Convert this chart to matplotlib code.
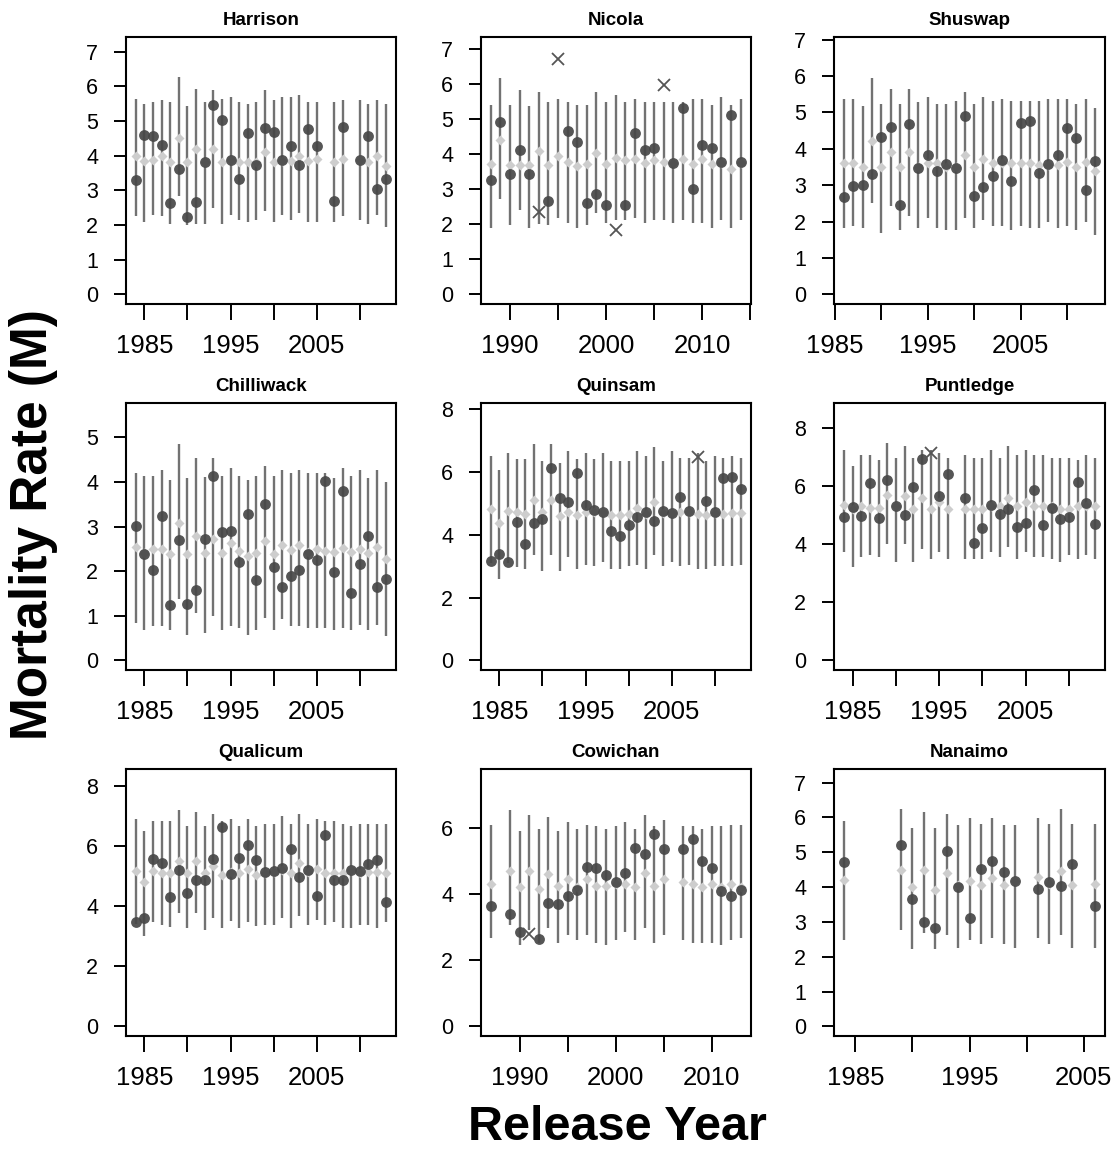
import matplotlib
matplotlib.use("Agg")
import matplotlib.pyplot as plt

plt.rcParams['font.family'] = ['Liberation Sans', 'DejaVu Sans']

# ---------------- data ----------------
panel_names = ["Harrison", "Nicola", "Shuswap", "Chilliwack", "Quinsam",
               "Puntledge", "Qualicum", "Cowichan", "Nanaimo"]

harrison_years = list(range(1984, 2006)) + [2007, 2008, 2010, 2011, 2012, 2013]
harrison_obs = [3.31, 4.61, 4.58, 4.30, 2.64, 3.62, 2.22, 2.67, 3.81, 5.45, 5.04, 3.89, 3.33, 4.66,
                3.74, 4.81, 4.69, 3.89, 4.27, 3.72, 4.77, 4.29, 2.69, 4.83, 3.89, 4.56, 3.04, 3.34]
harrison_pred = [3.98, 3.85, 3.88, 3.98, 3.82, 4.50, 3.82, 4.18, 3.82, 4.20, 3.82, 3.88, 3.82, 3.82,
                 3.82, 4.12, 3.82, 3.85, 3.85, 3.98, 3.85, 3.90, 3.82, 3.90, 3.88, 3.82, 3.98, 3.70]
harrison_lo = [2.27, 2.08, 2.30, 2.25, 2.03, 2.83, 2.00, 2.03, 2.03, 2.50, 2.03, 2.30, 2.15, 2.10,
               2.15, 2.42, 2.10, 2.30, 2.15, 2.35, 2.10, 2.10, 2.10, 2.25, 2.15, 2.03, 2.30, 1.95]
harrison_hi = [5.64, 5.48, 5.55, 5.62, 5.56, 6.26, 5.42, 5.91, 5.55, 5.90, 5.63, 5.70, 5.56, 5.50,
               5.56, 5.90, 5.62, 5.70, 5.70, 5.75, 5.56, 5.56, 5.56, 5.62, 5.62, 5.50, 5.62, 5.50]
harrison_cross = []

nicola_years = list(range(1988, 2015))
nicola_obs = [3.27, 4.91, 3.44, 4.13, 3.42, 2.36, 2.67, 6.72, 4.65, 4.34, 2.61, 2.86, 2.54, 1.85,
              2.54, 4.59, 4.11, 4.18, 5.98, 3.75, 5.32, 3.02, 4.25, 4.18, 3.78, 5.13, 3.77]
nicola_pred = [3.72, 4.40, 3.70, 3.70, 3.70, 4.10, 3.70, 3.95, 3.78, 3.65, 3.72, 4.02, 3.72, 3.90,
               3.82, 3.85, 3.75, 3.82, 3.78, 3.75, 3.85, 3.72, 3.85, 3.72, 3.75, 3.58, 3.75]
nicola_lo = [1.89, 2.72, 1.98, 2.40, 1.90, 2.00, 1.98, 2.18, 2.05, 1.90, 1.98, 2.32, 2.05, 2.11,
             2.11, 2.18, 2.05, 2.11, 2.11, 2.05, 2.11, 2.05, 2.05, 1.90, 2.11, 1.90, 2.11]
nicola_hi = [5.41, 6.17, 5.41, 5.84, 5.36, 5.77, 5.50, 5.58, 5.50, 5.40, 5.41, 5.77, 5.50, 5.70,
             5.50, 5.58, 5.50, 5.50, 5.50, 5.50, 5.50, 5.58, 5.58, 5.41, 5.63, 5.41, 5.58]
nicola_cross = [1993, 1995, 2001, 2006]

shuswap_years = list(range(1986, 2014))
shuswap_obs = [2.67, 2.97, 3.00, 3.32, 4.33, 4.59, 2.45, 4.69, 3.47, 3.84, 3.40, 3.57, 3.47, 4.91,
               2.69, 2.94, 3.26, 3.70, 3.11, 4.71, 4.76, 3.34, 3.58, 3.82, 4.56, 4.30, 2.86, 3.66]
shuswap_pred = [3.62, 3.62, 3.50, 4.20, 3.50, 3.90, 3.50, 3.90, 3.50, 3.60, 3.60, 3.50, 3.50, 3.82,
                3.50, 3.72, 3.60, 3.60, 3.60, 3.62, 3.60, 3.55, 3.55, 3.55, 3.65, 3.50, 3.65, 3.40]
shuswap_lo = [1.82, 1.89, 1.82, 2.51, 1.70, 2.42, 1.78, 2.16, 1.82, 2.10, 1.82, 1.78, 1.78, 2.10,
              1.82, 2.05, 1.89, 1.89, 1.78, 1.89, 1.82, 1.82, 1.98, 1.82, 1.89, 1.78, 1.98, 1.64]
shuswap_hi = [5.37, 5.37, 5.17, 5.95, 5.22, 5.63, 5.22, 5.63, 5.28, 5.43, 5.22, 5.22, 5.30, 5.55,
              5.22, 5.43, 5.30, 5.37, 5.30, 5.30, 5.30, 5.30, 5.37, 5.37, 5.37, 5.22, 5.37, 5.12]
shuswap_cross = []

chilliwack_years = list(range(1984, 2014))
chilliwack_obs = [3.02, 2.38, 2.03, 3.24, 1.25, 2.70, 1.27, 1.57, 2.73, 4.14, 2.88, 2.91, 2.20, 3.29,
                  1.80, 3.51, 2.09, 1.64, 1.89, 2.03, 2.39, 2.24, 4.01, 1.98, 3.79, 1.50, 2.15, 2.78,
                  1.65, 1.83]
chilliwack_pred = [2.55, 2.40, 2.50, 2.50, 2.38, 3.07, 2.38, 2.78, 2.40, 2.72, 2.40, 2.62, 2.45, 2.35,
                   2.40, 2.68, 2.38, 2.58, 2.48, 2.58, 2.42, 2.50, 2.45, 2.42, 2.52, 2.42, 2.50, 2.40,
                   2.55, 2.28]
chilliwack_lo = [0.84, 0.69, 0.77, 0.77, 0.69, 1.38, 0.58, 1.07, 0.62, 0.99, 0.69, 0.77, 0.73, 0.58,
                 0.69, 0.95, 0.69, 0.92, 0.77, 0.77, 0.73, 0.73, 0.73, 0.69, 0.73, 0.69, 0.80, 0.69,
                 0.80, 0.54]
chilliwack_hi = [4.20, 4.14, 4.14, 4.27, 4.05, 4.85, 4.08, 4.53, 4.12, 4.53, 4.14, 4.31, 4.14, 4.05,
                 4.14, 4.36, 4.14, 4.27, 4.20, 4.27, 4.20, 4.20, 4.20, 4.08, 4.31, 4.14, 4.27, 4.08,
                 4.27, 3.99]
chilliwack_cross = []

quinsam_years = list(range(1984, 2014))
quinsam_obs = [3.17, 3.39, 3.12, 4.42, 3.71, 4.39, 4.50, 6.12, 5.16, 5.03, 5.96, 4.95, 4.79, 4.74,
               4.11, 3.97, 4.32, 4.58, 4.72, 4.44, 4.77, 4.69, 5.20, 4.77, 6.47, 5.06, 4.71, 5.80,
               5.85, 5.45]
quinsam_pred = [4.82, 4.38, 4.75, 4.72, 4.65, 5.12, 4.72, 5.10, 4.60, 4.72, 4.62, 4.72, 4.72, 4.72,
                4.62, 4.62, 4.65, 4.85, 4.65, 5.05, 4.68, 4.68, 4.72, 4.72, 4.65, 4.62, 4.70, 4.65,
                4.70, 4.70]
quinsam_lo = [3.10, 2.59, 3.10, 2.97, 2.91, 3.36, 2.84, 3.36, 2.84, 3.29, 2.91, 3.05, 2.99, 3.12,
              2.91, 2.91, 2.99, 3.05, 2.91, 3.36, 2.99, 3.12, 2.99, 3.05, 2.91, 2.91, 2.99, 2.99,
              2.99, 3.05]
quinsam_hi = [6.51, 6.06, 6.59, 6.40, 6.40, 6.89, 6.36, 6.89, 6.28, 6.67, 6.42, 6.59, 6.40, 6.59,
              6.36, 6.36, 6.36, 6.67, 6.51, 6.80, 6.36, 6.67, 6.43, 6.43, 6.59, 6.36, 6.51, 6.43,
              6.51, 6.43]
quinsam_cross = [2008]

puntledge_years = list(range(1984, 1997)) + list(range(1998, 2014))
puntledge_obs = [4.93, 5.27, 4.96, 6.11, 4.88, 6.20, 5.31, 5.00, 5.97, 6.91, 7.12, 5.65, 6.40,
                 5.57, 4.05, 4.56, 5.36, 5.04, 5.21, 4.60, 4.71, 5.86, 4.64, 5.25, 4.85, 4.93,
                 6.13, 5.42, 4.70]
puntledge_pred = [5.35, 5.22, 5.30, 5.25, 5.25, 5.70, 5.30, 5.65, 5.20, 5.60, 5.20, 5.45, 5.22,
                  5.22, 5.22, 5.22, 5.30, 5.30, 5.60, 5.30, 5.45, 5.30, 5.30, 5.30, 5.20, 5.22,
                  5.30, 5.30, 5.30]
puntledge_lo = [3.72, 3.22, 3.55, 3.64, 3.55, 3.99, 3.38, 3.99, 3.38, 3.82, 3.47, 3.72, 3.47,
                3.47, 3.47, 3.47, 3.72, 3.55, 3.90, 3.47, 3.72, 3.55, 3.55, 3.47, 3.38, 3.64,
                3.47, 3.64, 3.47]
puntledge_hi = [7.22, 6.70, 7.05, 7.05, 6.89, 7.46, 6.97, 7.37, 6.97, 7.25, 7.25, 7.12, 6.97,
                7.05, 6.97, 6.97, 7.22, 6.97, 7.37, 7.05, 7.22, 7.05, 7.05, 6.97, 6.97, 6.97,
                6.89, 7.05, 6.97]
puntledge_cross = [1994]

qualicum_years = list(range(1984, 2014))
qualicum_obs = [3.47, 3.61, 5.56, 5.44, 4.31, 5.20, 4.44, 4.87, 4.86, 5.58, 6.64, 5.09, 5.61, 6.03,
                5.53, 5.13, 5.19, 5.26, 5.91, 4.97, 5.20, 4.33, 6.36, 4.87, 4.87, 5.22, 5.17, 5.42,
                5.53, 4.13]
qualicum_pred = [5.18, 4.80, 5.18, 5.10, 5.10, 5.50, 5.10, 5.50, 5.10, 5.35, 5.05, 5.15, 5.10, 5.25,
                 5.05, 5.10, 5.15, 5.20, 5.10, 5.45, 5.15, 5.25, 5.10, 5.10, 5.10, 5.20, 5.10, 5.15,
                 5.15, 5.10]
qualicum_lo = [3.40, 3.02, 3.47, 3.39, 3.31, 3.78, 3.28, 3.78, 3.22, 3.61, 3.28, 3.50, 3.28, 3.47,
               3.33, 3.36, 3.39, 3.61, 3.28, 3.69, 3.39, 3.53, 3.39, 3.47, 3.28, 3.28, 3.36, 3.36,
               3.28, 3.47]
qualicum_hi = [6.91, 6.50, 6.83, 6.83, 6.83, 7.22, 6.67, 7.13, 6.67, 7.06, 6.83, 6.91, 6.67, 6.91,
               6.67, 6.74, 6.74, 7.00, 6.74, 7.06, 6.74, 6.91, 6.83, 6.83, 6.74, 6.67, 6.74, 6.74,
               6.74, 6.74]
qualicum_cross = []

cowichan_years = [1987] + list(range(1989, 2006)) + list(range(2007, 2014))
cowichan_obs = [3.65, 3.40, 2.85, 2.80, 2.65, 3.73, 3.71, 3.93, 4.13, 4.81, 4.79, 4.59, 4.35, 4.64,
                5.39, 5.21, 5.80, 5.37, 5.37, 5.67, 5.01, 4.79, 4.08, 3.93, 4.13]
cowichan_pred = [4.30, 4.70, 4.20, 4.70, 4.15, 4.60, 4.25, 4.45, 4.20, 4.45, 4.25, 4.25, 4.30, 4.30,
                 4.20, 4.65, 4.25, 4.45, 4.35, 4.30, 4.20, 4.30, 4.20, 4.30, 4.20]
cowichan_lo = [2.67, 3.07, 2.47, 2.92, 2.52, 2.97, 2.52, 2.77, 2.60, 2.77, 2.52, 2.47, 2.60, 2.84,
               2.60, 2.97, 2.52, 2.77, 2.60, 2.52, 2.52, 2.52, 2.47, 2.60, 2.67]
cowichan_hi = [6.10, 6.55, 5.90, 6.40, 5.97, 6.33, 5.90, 6.18, 5.97, 6.10, 6.05, 5.97, 6.05, 6.18,
               5.97, 6.40, 6.05, 6.25, 6.05, 6.05, 5.97, 6.05, 6.05, 6.10, 6.10]
cowichan_cross = [1991]

nanaimo_years = [1984] + list(range(1989, 2000)) + list(range(2001, 2005)) + [2006]
nanaimo_obs = [4.71, 5.22, 3.67, 3.00, 2.82, 5.05, 4.01, 3.11, 4.52, 4.74, 4.44, 4.18, 3.94, 4.15,
               4.04, 4.66, 3.46]
nanaimo_pred = [4.20, 4.50, 4.00, 4.50, 3.92, 4.40, 4.05, 4.18, 4.05, 4.25, 4.05, 4.18, 4.30, 4.10,
                4.45, 4.05, 4.10]
nanaimo_lo = [2.48, 2.76, 2.21, 2.69, 2.21, 2.62, 2.26, 2.48, 2.36, 2.55, 2.36, 2.26, 2.55, 2.36,
              2.62, 2.26, 2.26]
nanaimo_hi = [5.89, 6.25, 5.69, 6.17, 5.69, 6.11, 5.77, 5.98, 5.82, 5.98, 5.77, 5.77, 5.98, 5.82,
              6.25, 5.82, 5.82]
nanaimo_cross = []

y_tops = [7.13, 7.05, 6.79, 5.54, 7.87, 8.5, 8.23, 7.47, 7.1]
y_steps = [1, 1, 1, 1, 2, 2, 2, 2, 1]

panels = [
    (harrison_years, harrison_obs, harrison_pred, harrison_lo, harrison_hi, harrison_cross),
    (nicola_years, nicola_obs, nicola_pred, nicola_lo, nicola_hi, nicola_cross),
    (shuswap_years, shuswap_obs, shuswap_pred, shuswap_lo, shuswap_hi, shuswap_cross),
    (chilliwack_years, chilliwack_obs, chilliwack_pred, chilliwack_lo, chilliwack_hi, chilliwack_cross),
    (quinsam_years, quinsam_obs, quinsam_pred, quinsam_lo, quinsam_hi, quinsam_cross),
    (puntledge_years, puntledge_obs, puntledge_pred, puntledge_lo, puntledge_hi, puntledge_cross),
    (qualicum_years, qualicum_obs, qualicum_pred, qualicum_lo, qualicum_hi, qualicum_cross),
    (cowichan_years, cowichan_obs, cowichan_pred, cowichan_lo, cowichan_hi, cowichan_cross),
    (nanaimo_years, nanaimo_obs, nanaimo_pred, nanaimo_lo, nanaimo_hi, nanaimo_cross),
]

# ---------------- layout ----------------
W, H = 1116, 1149
fig = plt.figure(figsize=(W / 100, H / 100), dpi=100)

col_left = [125.7, 480.7, 834.0]
col_width = [270.0, 270.0, 271.0]
row_top = [37.3, 403.3, 769.3]
row_h = 267.0

for i, (name, data) in enumerate(zip(panel_names, panels)):
    years, obs, pred, lo, hi, cross = data
    r, c = divmod(i, 3)
    ax = fig.add_axes([col_left[c] / W, 1 - (row_top[r] + row_h) / H,
                       col_width[c] / W, row_h / H])

    ax.vlines(years, lo, hi, colors='#727272', lw=1.7, zorder=2)
    ax.plot(years, pred, linestyle='none', marker='D', ms=5.5, color='#cdcdcd',
            mec='none', zorder=3)
    cy = [y for y, o in zip(years, obs) if y not in cross]
    co = [o for y, o in zip(years, obs) if y not in cross]
    ax.plot(cy, co, linestyle='none', marker='o', ms=7.8, color='#474747',
            mec='none', alpha=0.92, zorder=4)
    xy = [y for y in years if y in cross]
    xo = [o for y, o in zip(years, obs) if y in cross]
    if xy:
        ax.plot(xy, xo, linestyle='none', marker='x', ms=8, mew=1.3,
                color='#555555', zorder=4)

    x0, x1 = min(years), max(years)
    pad = 0.04 * (x1 - x0)
    ax.set_xlim(x0 - pad, x1 + pad)
    top = y_tops[i]
    ax.set_ylim(-0.04 * top, 1.04 * top)

    first = int(-(-(x0 - pad) // 5) * 5)
    ticks = list(range(first, int(x1 + pad) + 1, 5))
    ax.set_xticks(ticks)
    ax.set_xticklabels([str(t) if k % 2 == 0 else '' for k, t in enumerate(ticks)])
    yt = list(range(0, int(1.04 * top) + 1, y_steps[i]))
    ax.set_yticks(yt)
    ax.set_yticklabels([str(v) for v in yt])

    for s in ax.spines.values():
        s.set_linewidth(1.5)
    ax.tick_params(axis='x', length=11.5, width=1.4, pad=10, labelsize=18.5)
    ax.tick_params(axis='y', length=8.9, width=1.4, pad=11, labelsize=15.5)
    ax.set_title(name, fontsize=13.5, fontweight='bold', pad=8.6)

fig.text(34 / W, 1 - 525 / H, 'Mortality Rate (M)', rotation=90, ha='center',
         va='center', fontsize=37, fontweight='bold')
fig.text(617 / W, 1 - 1140 / H, 'Release Year', ha='center', va='baseline',
         fontsize=35, fontweight='bold')

fig.savefig('out.png', dpi=100)
